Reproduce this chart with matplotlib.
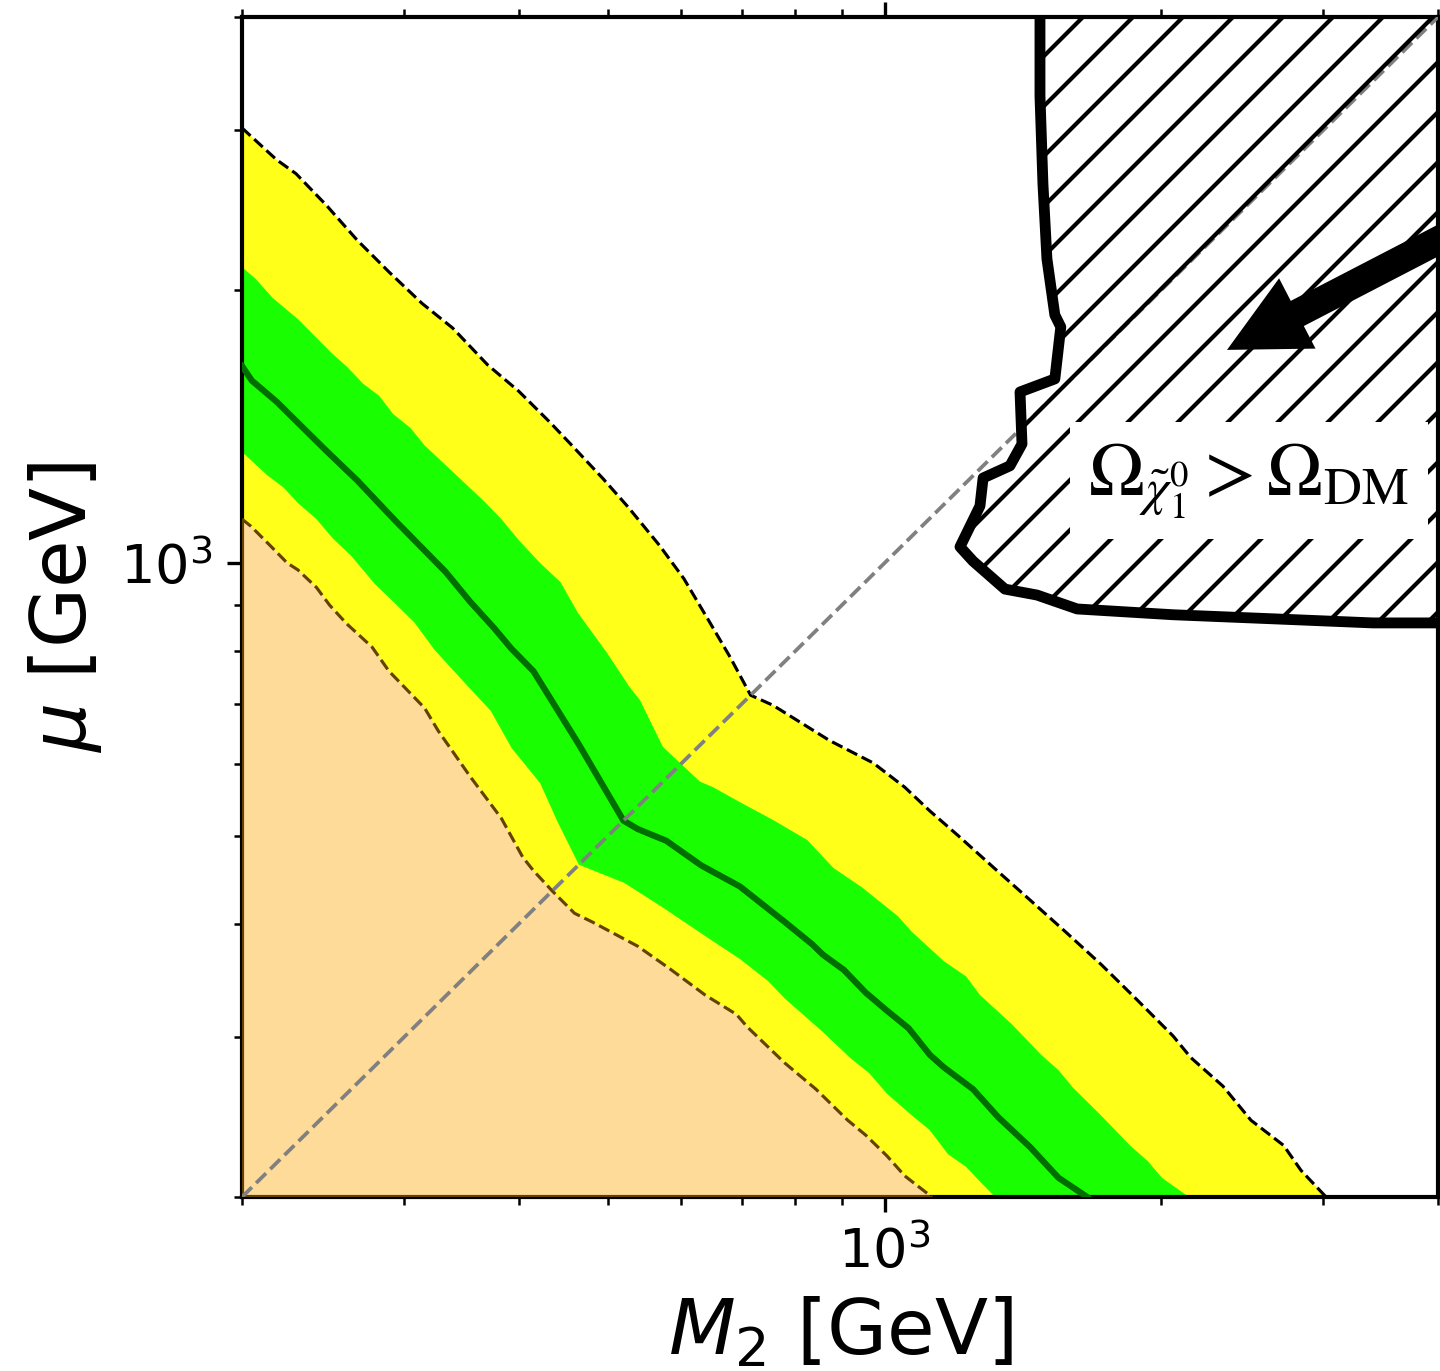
import numpy as np
import matplotlib
matplotlib.use("Agg")
import matplotlib.pyplot as plt
from matplotlib.patches import FancyArrowPatch
from matplotlib.ticker import NullFormatter

# exclusion contours in the (M2, mu) plane, GeV
# +2 sigma expected (upper edge of yellow band)
up2_m2 = [200, 218, 229, 247, 267, 289, 314, 339, 370, 400, 433, 457, 494, 526, 569,
          605, 646, 679, 715, 756, 872, 972, 1052, 1120, 1204, 1316, 1440, 1574, 1720,
          1882, 2060, 2153, 2334, 2504, 2717, 2838, 3022]
up2_mu = [3018, 2785, 2687, 2481, 2269, 2094, 1933, 1816, 1654, 1547, 1428, 1348, 1239, 1153, 1046,
          961, 859, 788, 715, 697, 637, 602, 566, 533, 500, 461, 425, 392, 361,
          330, 301, 285, 265, 243, 228, 214, 200]

# +1 sigma expected (upper edge of green band)
up1_m2 = [200, 207, 216, 230, 251, 260, 271, 282, 292, 305, 316, 339, 367, 383, 400,
          422, 444, 464, 499, 528, 542, 574, 599, 630, 651, 696, 756, 824, 880,
          945, 1034, 1071, 1160, 1227, 1270, 1376, 1480, 1546, 1603, 1720, 1849,
          1934, 2003, 2144]
up1_mu = [2120, 2057, 1960, 1858, 1700, 1647, 1576, 1529, 1460, 1409, 1348, 1261, 1169, 1118, 1060,
          1000, 953, 881, 796, 730, 706, 627, 602, 574, 566, 545, 521, 495, 461,
          439, 408, 392, 364, 350, 334, 310, 287, 276, 264, 246, 228,
          219, 210, 200]

# median expected
exp_m2 = [200, 205, 218, 247, 267, 294, 333, 354, 376, 393, 415, 465, 520, 539,
          579, 632, 696, 779, 834, 857, 903, 954, 1006, 1062, 1120, 1160, 1248,
          1329, 1440, 1546, 1661]
exp_mu = [1649, 1589, 1507, 1330, 1233, 1112, 978, 907, 848, 804, 760, 631, 520, 509,
          494, 464, 440, 402, 380, 370, 356, 336, 321, 307, 287, 278, 263,
          245, 227, 210, 200]

# -1 sigma expected (lower edge of green band)
dn1_m2 = [200, 213, 222, 230, 241, 251, 263, 279, 292, 308, 324, 351, 373, 393, 422,
          441, 465, 521, 574, 638, 696, 747, 779, 857, 920, 962, 1006, 1071, 1120,
          1172, 1226, 1270, 1319]
dn1_mu = [1326, 1250, 1211, 1165, 1118, 1065, 1018, 948, 907, 860, 802, 734, 687, 625, 572,
          518, 465, 444, 417, 388, 366, 346, 331, 304, 284, 274, 260, 246, 237,
          223, 216, 208, 200]

# -2 sigma expected (lower edge of yellow band)
dn2_m2 = [200, 204.5, 214.5, 224, 230, 241, 249, 260, 277, 289, 316, 327, 354, 383,
          404, 415, 435, 460, 481, 539, 584, 638, 690, 709, 779, 842, 912, 954,
          1006, 1052, 1126]
dn2_mu = [1118, 1098, 1046, 1000, 983, 940, 899, 857, 808, 760, 692, 653, 582, 523,
          474, 458, 435, 411, 402, 378, 357, 334, 318, 308, 281, 263, 243, 234,
          222, 211, 200]

# relic density overabundance boundary
relic_m2 = [1476, 1476, 1487, 1502, 1532, 1555, 1532, 1404, 1411, 1369, 1280, 1270,
            1208, 1248, 1352, 1465, 1620, 2060, 2646, 3398, 4200]
relic_mu = [4200, 3273, 2618, 2164, 1877, 1821, 1596, 1544, 1353, 1280, 1241, 1156,
            1042, 1005, 936, 922, 890, 877, 868, 859, 859]

xmin, xmax = 200, 4000
ymin, ymax = 200, 4000

fig = plt.figure(figsize=(4.8, 4.57), dpi=300)
ax = fig.add_axes([242 / 1440, 1 - 1197 / 1371, 1196 / 1440, 1180 / 1371])
ax.set_xscale("log")
ax.set_yscale("log")

# bands
ax.fill(up2_m2 + dn2_m2[::-1], up2_mu + dn2_mu[::-1], color="yellow", alpha=0.9, lw=0, zorder=1)
ax.fill(up1_m2 + dn1_m2[::-1], up1_mu + dn1_mu[::-1], color="lime", alpha=0.9, lw=0, zorder=2)
ax.fill(dn2_m2 + [xmin], dn2_mu + [ymin], color="orange", alpha=0.4, lw=0, zorder=3)

ax.plot(up2_m2, up2_mu, "--", color="black", lw=0.75, zorder=4)
ax.plot(dn2_m2, dn2_mu, "--", color="#664200", lw=0.75, zorder=4)
ax.plot(exp_m2, exp_mu, "-", color="#006e00", lw=1.5, zorder=4)

# M2 = mu
ax.plot([xmin, xmax], [ymin, ymax], "--", color="gray", lw=0.9, zorder=5)

# overabundant region
ax.fill(relic_m2 + [5000, 5000], relic_mu + [5000, 5000], facecolor="none",
        edgecolor="black", hatch="//", lw=0, zorder=6)
ax.plot(relic_m2, relic_mu, "-", color="black", lw=2.6, zorder=7)

arrow = FancyArrowPatch((4670, 2460), (2358, 1718),
                        arrowstyle="simple,head_length=1.9,head_width=1.9,tail_width=0.68",
                        mutation_scale=10, color="black", lw=0, shrinkA=0, shrinkB=0, zorder=8)
ax.add_patch(arrow)

ax.text(2490, 1232, r"$\Omega_{\tilde{\chi}^0_1} > \Omega_{\rm DM}$", fontsize=18,
        math_fontfamily="stix", ha="center", va="center", zorder=9,
        bbox=dict(facecolor="white", edgecolor="none", pad=4.5))

ax.set_xlim(xmin, xmax)
ax.set_ylim(ymin, ymax)
ax.xaxis.set_minor_formatter(NullFormatter())
ax.yaxis.set_minor_formatter(NullFormatter())
ax.tick_params(which="both", top=True, right=True, labelsize=13)
for s in ax.spines.values():
    s.set_linewidth(1.0)

ax.set_xlabel(r"$M_2$ [GeV]", fontsize=18.6)
ax.set_ylabel(r"$\mu$ [GeV]", fontsize=18.6)

fig.savefig("out.png", dpi=300)
